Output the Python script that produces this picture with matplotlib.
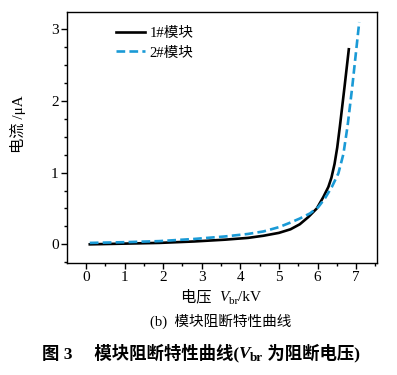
import matplotlib
matplotlib.use("Agg")
import matplotlib.pyplot as plt
from matplotlib.ticker import MultipleLocator

FAM = ['Liberation Serif', 'Noto Sans CJK SC']
plt.rcParams['font.family'] = FAM

# data
v1 = [0.1, 1.0, 1.9, 2.8, 3.6, 4.2, 4.6, 5.0, 5.3, 5.54, 5.76, 5.98, 6.15, 6.28, 6.36, 6.44, 6.51, 6.58, 6.7, 6.81]
i1 = [0.0, 0.01, 0.02, 0.04, 0.065, 0.09, 0.12, 0.16, 0.21, 0.28, 0.38, 0.5, 0.66, 0.8, 0.93, 1.12, 1.35, 1.65, 2.2, 2.72]
v2 = [0.1, 1.0, 1.9, 2.8, 3.6, 4.2, 4.6, 5.0, 5.28, 5.54, 5.8, 6.02, 6.19, 6.37, 6.54, 6.67, 6.78, 6.9, 7.0, 7.08]
i2 = [0.02, 0.03, 0.045, 0.075, 0.11, 0.145, 0.18, 0.24, 0.3, 0.36, 0.43, 0.52, 0.64, 0.8, 0.99, 1.26, 1.66, 2.2, 2.7, 3.1]
labels = ['1#模块', '2#模块']
xticks = [0, 1, 2, 3, 4, 5, 6, 7]
yticks = [0, 1, 2, 3]

fig = plt.figure(figsize=(3.97, 3.75), dpi=100)
ax = fig.add_axes([0.1688, 0.2987, 0.7808, 0.6693])
ax.plot(v1, i1, color='black', lw=1.9, label=labels[0])
ax.plot(v2, i2, color='#1a9ad6', lw=1.9, ls=(0, (3.3, 1.6)), label=labels[1])

ax.set_xlim(-0.49, 7.54)
ax.set_ylim(-0.26, 3.24)
ax.set_xticks(xticks)
ax.set_yticks(yticks)
ax.xaxis.set_minor_locator(MultipleLocator(0.5))
ax.yaxis.set_minor_locator(MultipleLocator(0.25))
ax.tick_params(which='major', direction='out', length=4, width=1, labelsize=11, pad=2)
ax.tick_params(which='minor', direction='out', length=2.5, width=1)
for s in ax.spines.values():
    s.set_linewidth(1.0)

ax.set_ylabel('电流 /μA', fontsize=11)
ax.yaxis.set_label_coords(-0.132, 0.554)

leg = ax.legend(loc='upper left', bbox_to_anchor=(0.14, 0.965), frameon=False,
                fontsize=10.5, handlelength=2.0, handletextpad=0.3, labelspacing=0.45,
                borderaxespad=0)

renderer = fig.canvas.get_renderer()
W, H = fig.bbox.width, fig.bbox.height


def draw_pieces(pieces, xc, y_px):
    """pieces: list of (text, kwargs, dy_px). Draw centred at xc (px), baseline y_px from top."""
    objs = []
    widths = []
    for txt, kw, dy in pieces:
        t = fig.text(0, 0, txt, va='baseline', ha='left', **kw)
        w = t.get_window_extent(renderer).width
        objs.append((t, dy))
        widths.append(w)
    total = sum(widths)
    x = xc - total / 2
    for (t, dy), w in zip(objs, widths):
        t.set_position((x / W, 1 - (y_px + dy) / H))
        x += w


# x label
draw_pieces([
    ('电压  ', dict(fontsize=11, family=FAM), 0),
    ('V', dict(fontsize=11, family='Liberation Serif', style='italic'), 0),
    ('br', dict(fontsize=8, family='Liberation Serif'), 3),
    ('/kV', dict(fontsize=11, family='Liberation Serif'), 0),
], 221, 301)

# sub caption
draw_pieces([
    ('(b)  模块阻断特性曲线', dict(fontsize=10.5, family=FAM), 0),
], 221, 326)

# figure caption
draw_pieces([
    ('图 3     模块阻断特性曲线(', dict(fontsize=12.5, family=FAM, weight='bold'), 0),
    ('V', dict(fontsize=12.5, family='Liberation Serif', weight='bold', style='italic'), 0),
    ('br', dict(fontsize=9.5, family='Liberation Serif', weight='bold'), 3),
    (' 为阻断电压)', dict(fontsize=12.5, family=FAM, weight='bold'), 0),
], 201, 358)

fig.savefig('out.png', dpi=100)
